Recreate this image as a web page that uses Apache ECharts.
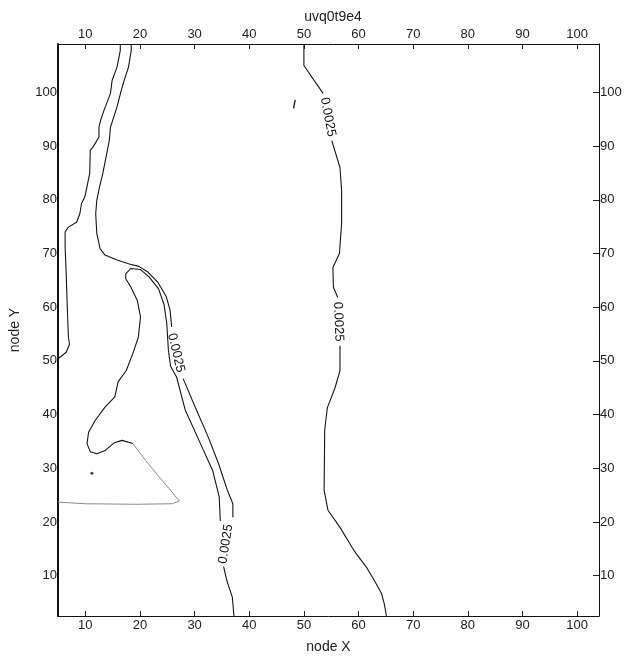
<!DOCTYPE html>
<html>
<head>
<meta charset="utf-8">
<script src="https://cdn.jsdelivr.net/npm/echarts@6/dist/echarts.min.js"></script>
<style>
html,body{margin:0;padding:0;background:#fff;}
#chart{width:626px;height:659px;}
</style>
</head>
<body>
<div id="chart"></div>
<script>
// ---- data (node coordinates) ----
const titleText = 'uvq0t9e4';
const xName = 'node X';
const yName = 'node Y';
const xTicks = [10, 20, 30, 40, 50, 60, 70, 80, 90, 100];
const yTicks = [10, 20, 30, 40, 50, 60, 70, 80, 90, 100];
const xRange = [5, 104];
const yRange = [2.5, 109];
const contourLevel = '0.0025';

// right contour (split where its labels sit)
const contourA1 = [[50,109],[50,105],[53.5,99.8]];
const contourA2 = [[55.1,91],[56.6,86],[56.9,81.7],[56.9,75.6],[56.5,70],[55.3,67.4],[55.4,63.7],[56.2,61.8]];
const contourA3 = [[56.6,52.8],[56.6,48.2],[55.7,45],[54.3,41.3],[54,38.9],[53.8,37],[53.7,25.9],[54.4,22.2],[56.6,19],[58.8,15.3],[59.5,14.2],[61.5,11.5],[62.9,9.1],[64.2,6.7],[64.7,4.8],[65.1,2.5]];

// left-most contour
const contourC = [[16.4,109],[16.4,107.8],[15.8,104.7],[14.9,102.2],[14.6,99.8],[13.4,96.6],[12.8,94.8],[12.5,93.5],[12.5,91.7],[11.4,89.8],[10.9,89.2],[10.8,84.9],[10.3,82.4],[9.9,80.5],[9.3,79.3],[9.0,77.4],[8.4,75.8],[6.9,74.9],[6.3,74.0],[6.3,71.2],[6.5,66.2],[6.7,60],[6.9,54.5],[7.1,53.1],[6.5,51.6],[5,50.4]];

// second contour from the top (split at its label)
const contourB1 = [[18.4,109],[18.4,107.8],[17.9,104.7],[17.1,102.2],[16.5,100.1],[15.8,97.3],[15.2,95.4],[14.6,93.5],[14.4,91.1],[13.8,88],[13.2,84.9],[12.6,82.4],[12.1,79.9],[11.9,77.4],[12.1,73.7],[12.7,70.9],[13.6,69.7],[15.8,68.8],[18.2,68.0],[19.8,67.6],[21.5,66.5],[23.3,64.6],[24.8,62],[25.5,59.5],[25.8,56.3]];
const contourB2 = [[27.9,46.7],[30.1,41.4],[32.5,35.8],[34.4,30.8],[36.0,25.9],[37.0,23.4],[37.0,20.9]];

// loop contour (gray tail at the bottom, inner branch down to the bottom edge)
const contourD1 = [[18.7,34.6],[16.7,35.2],[15.2,34.7],[13.6,33.3],[12.1,32.7],[10.9,33.1],[10.3,34.6],[10.6,36.7],[11.8,38.9],[13.6,41.4],[15.4,43.3],[16.0,46.1],[17.5,48.2],[18.7,51.4],[19.7,54.4],[20.1,58.2],[19.5,61.3],[18.3,63.8],[17.4,65.3],[17.4,66.2],[18.3,67.2],[20.1,67.0],[21.7,65.6],[23.4,63.4],[24.4,60.5],[24.9,57],[25.2,52],[25.6,49],[26.7,47.0],[28.3,40.8],[30.8,35.2],[33.3,29.6],[34.5,24.7],[34.7,20.2]];
const contourD2 = [[35.3,11.7],[35.9,9.1],[36.9,6.0],[37.2,2.5]];
const contourTail = [[18.7,34.6],[21.0,31.5],[23.5,28.4],[25.6,25.9],[27.2,23.9],[25.9,23.4],[19.2,23.3],[10.0,23.4],[5,23.7]];

// contour labels
const labelPoints = [[54.4,95.4],[56.3,57.3],[26.6,51.5],[35.7,15.9]];
const labelAngles = [-79, -88, -77, 81];

// scan specks
const speckPoints = [[11.2,29.1]];
const speckStroke = [[48.4,98.6],[48.1,97.0]];

// ---- chart ----
const chart = echarts.init(document.getElementById('chart'));
const FONT = 'Liberation Sans';
const TXT = '#222';
const LINE = '#151515';

function seg(data, color, width) {
  return {
    type: 'line', data: data, showSymbol: false, symbol: 'none', silent: true,
    lineStyle: {color: color || LINE, width: width || 1.1}, animation: false, z: 3
  };
}

const baseAxisLine = {show: true, lineStyle: {color: '#111', width: 1}};
const series = [
  seg(contourA1), seg(contourA2), seg(contourA3),
  seg(contourC), seg(contourB1), seg(contourB2),
  seg(contourD1), seg(contourD2), seg(contourTail, '#8a8a8a', 1),
  seg(speckStroke, LINE, 1.3),
  {
    type: 'scatter', data: speckPoints, symbolSize: 3, silent: true,
    itemStyle: {color: '#111'}, animation: false
  },
  {
    type: 'scatter', silent: true, animation: false, symbolSize: 2,
    itemStyle: {color: 'rgba(255,255,255,0)'},
    data: labelPoints.map((p, i) => ({value: p, label: {rotate: labelAngles[i]}})),
    label: {
      show: true, position: 'inside', formatter: contourLevel,
      fontFamily: FONT, fontSize: 13, color: '#111', opacity: 1
    },
    labelLayout: {hideOverlap: false},
    z: 5
  }
];

chart.setOption({
  backgroundColor: '#fff',
  animation: false,
  title: {
    text: titleText, left: 328, top: 5, textAlign: 'center',
    textStyle: {fontFamily: FONT, fontSize: 14, fontWeight: 'normal', color: TXT}
  },
  grid: {left: 57, right: 27, top: 44, bottom: 42},
  xAxis: [
    {
      type: 'value', position: 'bottom', min: xRange[0], max: xRange[1],
      name: xName, nameLocation: 'middle', nameGap: 24,
      nameTextStyle: {fontFamily: FONT, fontSize: 14, color: TXT},
      axisLine: baseAxisLine,
      axisTick: {show: true, inside: true, length: 5, customValues: xTicks, lineStyle: {color: '#222'}},
      axisLabel: {customValues: xTicks, fontFamily: FONT, fontSize: 13, color: TXT, margin: 3},
      splitLine: {show: false}
    },
    {
      type: 'value', position: 'top', min: xRange[0], max: xRange[1],
      axisLine: baseAxisLine,
      axisTick: {show: true, inside: true, length: 5, customValues: xTicks, lineStyle: {color: '#222'}},
      axisLabel: {customValues: xTicks, fontFamily: FONT, fontSize: 13, color: TXT, margin: 3},
      splitLine: {show: false}
    }
  ],
  yAxis: [
    {
      type: 'value', position: 'left', min: yRange[0], max: yRange[1],
      name: yName, nameLocation: 'middle', nameGap: 36, nameRotate: 90,
      nameTextStyle: {fontFamily: FONT, fontSize: 14, color: TXT},
      axisLine: {show: true, lineStyle: {color: '#111', width: 2}},
      axisTick: {show: false, customValues: yTicks},
      axisLabel: {customValues: yTicks, fontFamily: FONT, fontSize: 13, color: TXT, margin: 1},
      splitLine: {show: false}
    },
    {
      type: 'value', position: 'right', min: yRange[0], max: yRange[1],
      axisLine: baseAxisLine,
      axisTick: {show: true, inside: true, length: 6, customValues: yTicks, lineStyle: {color: '#222'}},
      axisLabel: {customValues: yTicks, fontFamily: FONT, fontSize: 13, color: TXT, margin: 1},
      splitLine: {show: false}
    }
  ],
  series: series
});
</script>
</body>
</html>
